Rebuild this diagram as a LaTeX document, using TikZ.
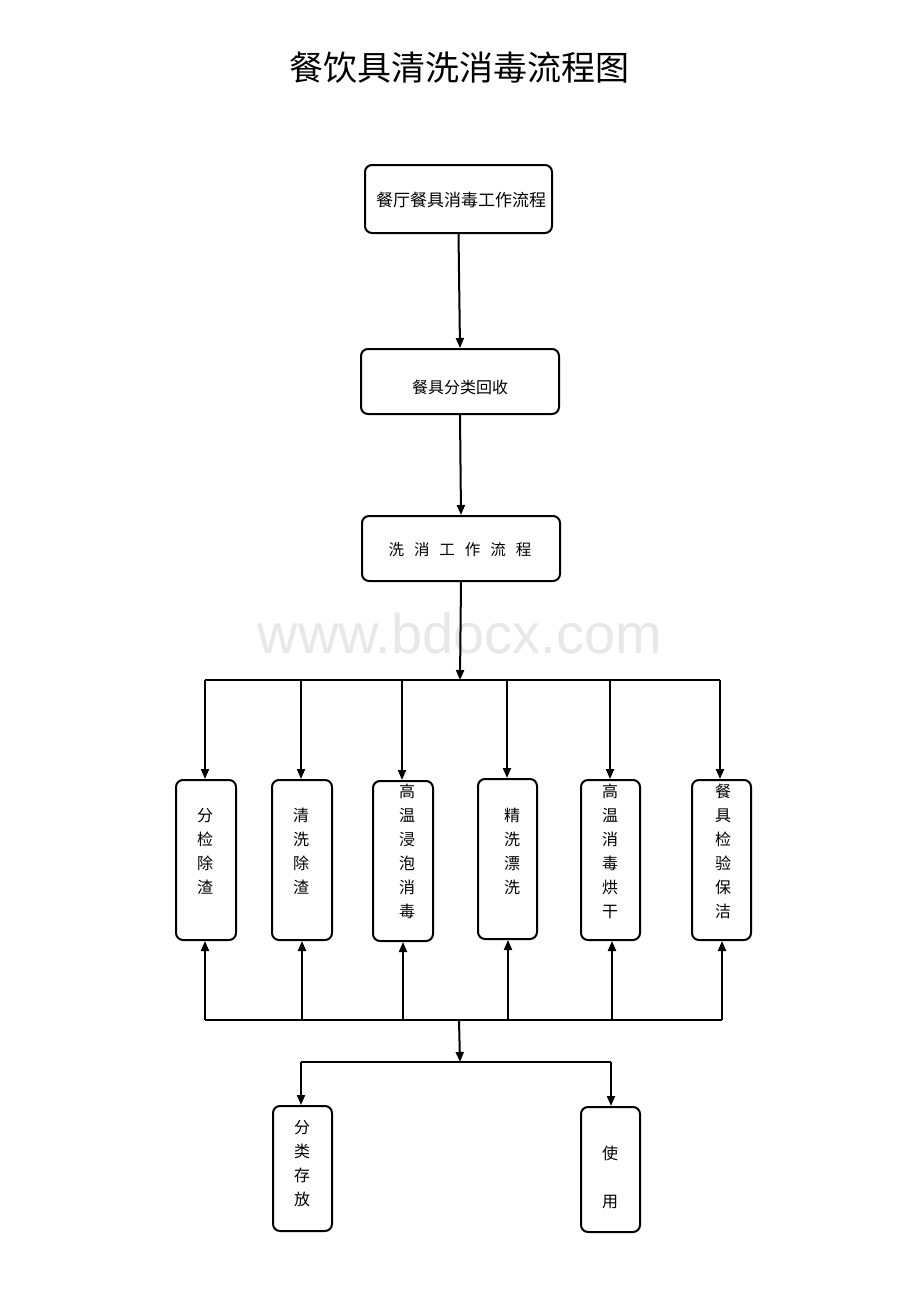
\documentclass[tikz,border=0pt]{standalone}
\usepackage{fontspec}
\setmainfont{Noto Sans CJK SC}
\newfontfamily\wmfont{Liberation Sans}
\usetikzlibrary{arrows.meta}
\begin{document}
\begin{tikzpicture}[x=1pt,y=-1pt,
  box/.style={draw, line width=2pt, rounded corners=7pt, inner sep=0pt},
  conn/.style={line width=2pt, -{Triangle[length=10pt,width=8pt]}},
  ln/.style={line width=2pt},
  lbl/.style={align=center, font=\fontsize{16}{24}\selectfont, inner sep=0pt}]
\useasboundingbox (0,0) rectangle (920,1302);

% watermark
\node[text=black!9, font=\wmfont\fontsize{56}{60}\selectfont] (wm) at (460,633) {www.bdocx.com};

% title
\node[font=\fontsize{34}{40}\selectfont] (title) at (459,68) {餐饮具清洗消毒流程图};

% top boxes
\node[box, minimum width=187pt, minimum height=68pt] (a1) at (458.5,199) {};
\node[lbl, font=\fontsize{17}{20}\selectfont] (a1t) at (461,200) {餐厅餐具消毒工作流程};
\node[box, minimum width=198pt, minimum height=65pt] (a2) at (460,381.5) {};
\node[lbl, font=\fontsize{16}{20}\selectfont] (a2t) at (460,387) {餐具分类回收};
\node[box, minimum width=198pt, minimum height=65pt] (a3) at (461,548.5) {};
\node[lbl, font=\fontsize{15.5}{20}\selectfont] (a3t) at (460,550) {洗\hspace{10pt}消\hspace{10pt}工\hspace{10pt}作\hspace{10pt}流\hspace{10pt}程};

\draw[conn] (a1.south) -- (a2.north);
\draw[conn] (a2.south) -- (a3.north);

% middle boxes
\node[box, minimum width=60pt, minimum height=160pt] (m1) at (206,860) {};
\node[box, minimum width=60pt, minimum height=160pt] (m2) at (302,860) {};
\node[box, minimum width=60pt, minimum height=160pt] (m3) at (403,861) {};
\node[box, minimum width=59pt, minimum height=160pt] (m4) at (507.5,859) {};
\node[box, minimum width=59pt, minimum height=160pt] (m5) at (610.5,860) {};
\node[box, minimum width=59pt, minimum height=160pt] (m6) at (721.5,860) {};

\node[lbl] (m1t) at (205,851) {分\\检\\除\\渣};
\node[lbl] (m2t) at (301,851) {清\\洗\\除\\渣};
\node[lbl] (m3t) at (407,851) {高\\温\\浸\\泡\\消\\毒};
\node[lbl] (m4t) at (512,851) {精\\洗\\漂\\洗};
\node[lbl] (m5t) at (610,851) {高\\温\\消\\毒\\烘\\干};
\node[lbl] (m6t) at (723,851) {餐\\具\\检\\验\\保\\洁};

% top bus
\coordinate (bt) at (460,680);
\coordinate (bt1) at (205,680);
\coordinate (bt2) at (301,680);
\coordinate (bt3) at (402,680);
\coordinate (bt4) at (507,680);
\coordinate (bt5) at (610,680);
\coordinate (bt6) at (720,680);
\draw[conn] (a3.south) -- (bt);
\draw[ln] (bt1) -- (bt6);
\draw[conn] (bt1) -- (bt1 |- m1.north);
\draw[conn] (bt2) -- (bt2 |- m2.north);
\draw[conn] (bt3) -- (bt3 |- m3.north);
\draw[conn] (bt4) -- (bt4 |- m4.north);
\draw[conn] (bt5) -- (bt5 |- m5.north);
\draw[conn] (bt6) -- (bt6 |- m6.north);

% bottom bus
\coordinate (bb1) at (205,1020);
\coordinate (bb2) at (302,1020);
\coordinate (bb3) at (403,1020);
\coordinate (bb4) at (508,1020);
\coordinate (bb5) at (612,1020);
\coordinate (bb6) at (722,1020);
\coordinate (bb) at (459,1020);
\draw[ln] (bb1) -- (bb6);
\draw[conn] (bb1) -- (bb1 |- m1.south);
\draw[conn] (bb2) -- (bb2 |- m2.south);
\draw[conn] (bb3) -- (bb3 |- m3.south);
\draw[conn] (bb4) -- (bb4 |- m4.south);
\draw[conn] (bb5) -- (bb5 |- m5.south);
\draw[conn] (bb6) -- (bb6 |- m6.south);

% final boxes
\node[box, minimum width=59pt, minimum height=125pt] (f1) at (302.5,1168.5) {};
\node[box, minimum width=59pt, minimum height=125pt] (f2) at (610.5,1169.5) {};
\node[lbl] (f1t) at (302,1164) {分\\类\\存\\放};
\node[lbl, font=\fontsize{16}{48}\selectfont] (f2t) at (610,1177) {使\\用};

\coordinate (bf) at (460,1062);
\coordinate (bf1) at (301,1062);
\coordinate (bf2) at (611,1062);
\draw[conn] (bb) -- (bf);
\draw[ln] (bf1) -- (bf2);
\draw[conn] (bf1) -- (bf1 |- f1.north);
\draw[conn] (bf2) -- (bf2 |- f2.north);
\end{tikzpicture}
\end{document}
